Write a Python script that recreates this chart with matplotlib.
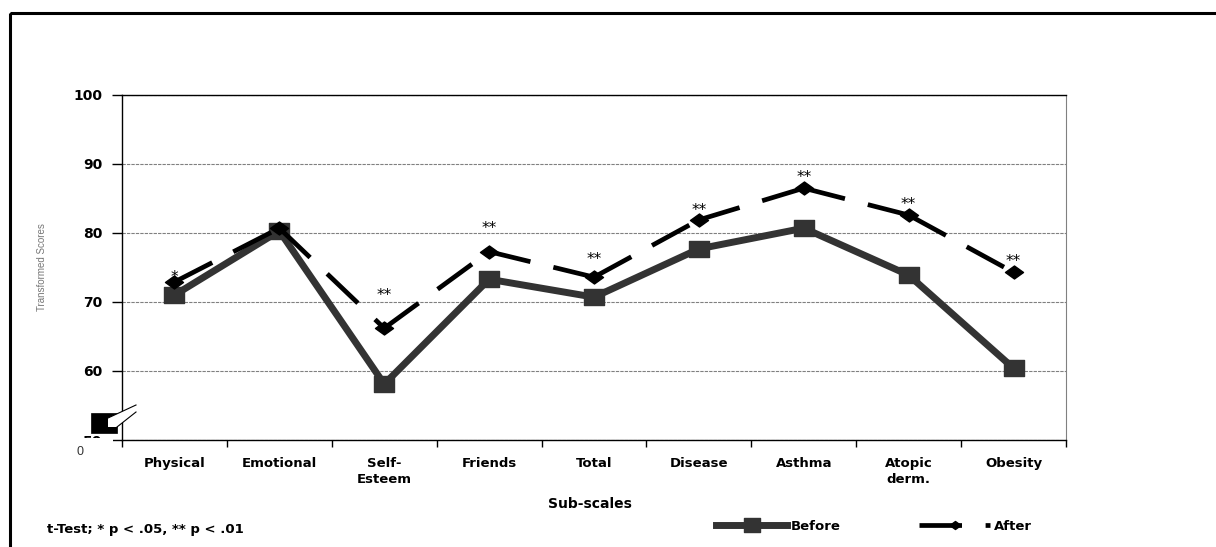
import numpy as np
import matplotlib
matplotlib.use("Agg")
import matplotlib.pyplot as plt
from matplotlib.path import Path
from matplotlib.lines import Line2D
from matplotlib.patches import Rectangle, Polygon
from matplotlib.transforms import Affine2D
from matplotlib.ticker import FixedLocator

plt.rcParams['font.family'] = ['Liberation Sans', 'DejaVu Sans']
WIDE = ['DejaVu Sans']  # wider face for the spaced-out bold labels

# sub-scale scores before / after the programme
categories = ["Physical", "Emotional", "Self-\nEsteem", "Friends", "Total",
              "Disease", "Asthma", "Atopic\nderm.", "Obesity"]
before = [71.0, 80.3, 58.1, 73.3, 70.7, 77.7, 80.7, 73.9, 60.4]
after = [72.9, 80.7, 66.2, 77.3, 73.6, 81.9, 86.5, 82.6, 74.3]
stars = ["*", "", "**", "**", "**", "**", "**", "**", "**"]
star_y = [73.6, np.nan, 71.0, 80.7, 76.1, 83.3, 88.1, 84.2, 75.9]
yticks = [50, 60, 70, 80, 90, 100]

W, H = 1216, 547
fig = plt.figure(figsize=(W / 100, H / 100), dpi=100)
# pixel coords, origin top-left
px = Affine2D().scale(1 / W, -1 / H).translate(0, 1) + fig.transFigure

ax = fig.add_axes([122 / W, 1 - 440 / H, (1066 - 122) / W, (440 - 95) / H])
x = np.arange(len(categories))

# wide-ish square and diamond markers like the spreadsheet ones
sq = Path([(-1, -0.8), (1, -0.8), (1, 0.8), (-1, 0.8), (-1, -0.8)],
          [Path.MOVETO, Path.LINETO, Path.LINETO, Path.LINETO, Path.CLOSEPOLY])
dm = Path([(-1, 0), (0, 0.72), (1, 0), (0, -0.72), (-1, 0)],
          [Path.MOVETO, Path.LINETO, Path.LINETO, Path.LINETO, Path.CLOSEPOLY])

ax.plot(x, before, color="#333333", lw=5, marker=sq, markersize=14,
        solid_joinstyle="miter", zorder=3)

# dash pattern restarts at every point
dash = (9, 5)
for i in range(len(x) - 1):
    ax.plot(x[i:i + 2], after[i:i + 2], color="black", lw=3.4,
            dashes=dash, dash_capstyle="butt", zorder=4)
ax.plot(x, after, ls="none", marker=dm, markersize=13, color="black", zorder=5)

for xi, s, sy in zip(x, stars, star_y):
    if s:
        ax.text(xi, sy, s, ha="center", va="center", fontsize=11,
                family=WIDE, zorder=6)

ax.set_xlim(-0.5, len(categories) - 0.5)
ax.set_ylim(50, 100)
ax.set_yticks(yticks)
ax.set_yticklabels([str(v) for v in yticks], fontweight="bold", fontsize=10,
                   family=WIDE)
ax.tick_params(axis="y", length=7, width=1, pad=7)

ax.set_xticks(x)
ax.set_xticklabels(categories, fontweight="bold", fontsize=9.5, linespacing=1.3,
                   family=WIDE)
ax.tick_params(axis="x", which="major", length=0, pad=12)
ax.xaxis.set_minor_locator(FixedLocator(np.arange(-0.5, len(categories), 1)))
ax.tick_params(axis="x", which="minor", length=5, width=1, direction="out")

ax.yaxis.grid(True, color="#808080", lw=0.8, ls=(0, (3, 1)))
ax.set_axisbelow(True)
for s in ["left", "bottom", "top"]:
    ax.spines[s].set_color("black")
    ax.spines[s].set_linewidth(1)
ax.spines["right"].set_color("#808080")

ax.set_xlabel("Sub-scales", fontweight="bold", fontsize=10, family=WIDE)
ax.xaxis.set_label_coords((590 - 122) / 944, (440 - 497) / 345)
ax.set_ylabel("Transformed Scores", fontsize=7, color="#777777")
ax.yaxis.set_label_coords((47 - 122) / 944, 0.5)

# axis break mark; the 50 label sits mostly behind a white patch
fig.add_artist(Rectangle((91, 413), 26, 20, transform=px, facecolor="black",
                         edgecolor="black", lw=0.5, zorder=5))
fig.add_artist(Polygon([(108, 418), (136, 405), (136, 412), (117, 427), (108, 427)],
                       closed=True, transform=px, facecolor="white",
                       edgecolor="none", zorder=6))
fig.add_artist(Line2D([108, 136], [418, 405], transform=px, color="black", lw=0.8, zorder=7))
fig.add_artist(Line2D([117, 136], [427, 412], transform=px, color="black", lw=0.8, zorder=7))
fig.add_artist(Rectangle((70, 437.5), 43, 16, transform=px, facecolor="white",
                         edgecolor="none", zorder=5))
fig.text(80, 452, "0", transform=px, fontsize=9, color="#333333",
         ha="center", va="center", zorder=8)

fig.text(47, 530, "t-Test; * p < .05, ** p < .01", transform=px,
         fontsize=9.5, fontweight="bold", va="center", ha="left", family=WIDE)

handles = [Line2D([], [], color="#333333", lw=5, marker=sq, markersize=12),
           Line2D([], [], color="black", lw=3.4, dashes=dash, marker=dm, markersize=8)]
fig.legend(handles, ["Before", "After"], loc="center left",
           bbox_to_anchor=(716 / W, 1 - 526 / H), ncol=2, frameon=False,
           prop={"weight": "bold", "size": 9.5, "family": WIDE}, handlelength=5.4,
           handletextpad=0.3, columnspacing=5.9, borderpad=0, borderaxespad=0)

# outer frame, runs off the right and bottom edges
fig.add_artist(Rectangle((10, 13), 1400, 700, transform=px, fill=False,
                         edgecolor="black", lw=2.2, zorder=10))

fig.savefig("out.png", dpi=100)
